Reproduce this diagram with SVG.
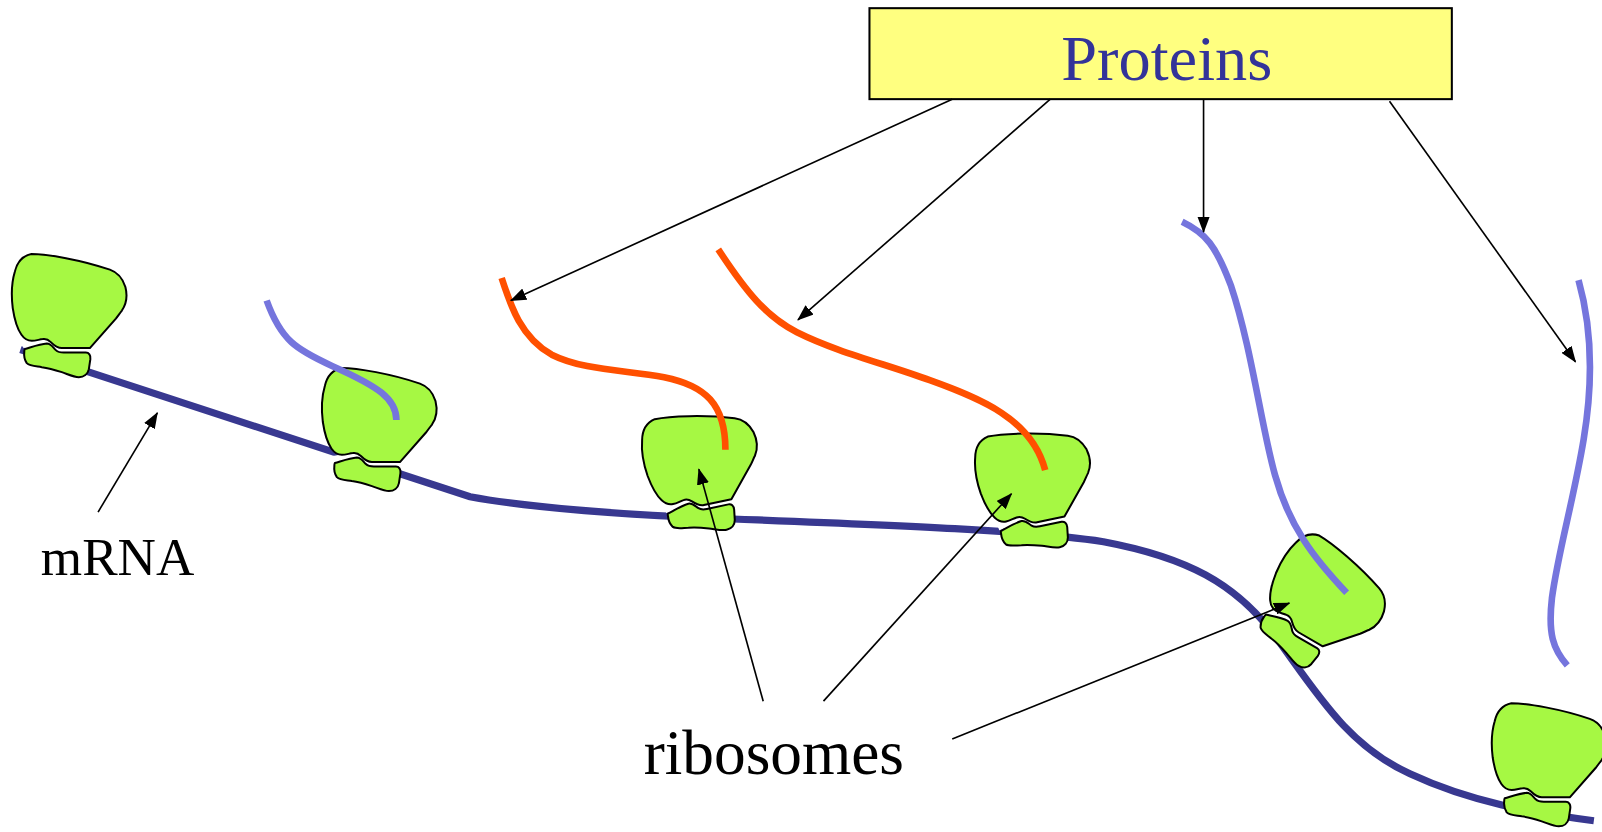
<svg xmlns="http://www.w3.org/2000/svg" width="1602" height="832" viewBox="0 0 1602 832">
  <style>
    .mrna { fill: none; stroke: #383890; stroke-width: 7; }
    .chain-blue { fill: none; stroke: #7575dd; stroke-width: 6.5; }
    .chain-red { fill: none; stroke: #ff5000; stroke-width: 6.5; }
    .sub { fill: #a6f843; stroke: #000; stroke-width: 2; stroke-linejoin: round; }
    .gap { fill: none; stroke: #fff; stroke-width: 6; }
    .ptr { fill: none; stroke: #000; stroke-width: 1.6; marker-end: url(#head); }
    .label { font-family: "Liberation Serif", "Times New Roman", serif; fill: #000; }
  </style>
  <defs>
    <marker id="head" viewBox="0 0 16 12" refX="15" refY="6" markerWidth="16" markerHeight="12" markerUnits="userSpaceOnUse" orient="auto">
      <path d="M0,0 L16,6 L0,12 Z" fill="#000"/>
    </marker>
    <!-- ribosome: large subunit on top, small subunit below, white cleft between -->
    <g id="ribosome">
      <path class="gap" d="M11,93 C22,91 30,88.5 36,89.5 C40,91 43,97.5 51,97.5 L77,97.5"/>
      <path class="sub" d="M19.7,2 C35,2 70,8 98,17.7 C106,20.5 111,27 113.5,35 C115.5,43 114.5,52 110,58.5 C108,61 106,64 104,66.5 L78,96 L50,96 C45,96 42,93 39,90 C36,87 34,86.5 31,87 C27,87.5 24,88.7 20,88.7 C16,88.7 12,86 9.7,82.7 C5,76 2.5,66 1,56 C-0.5,44 0,30 3,20 C5,11 10,4 19.7,2 Z"/>
      <path class="sub" d="M13,97 C20,95 28,92 35,91.5 C39,91.5 41,95 44,98 C46,100 48,100.5 52,100.5 L74,100.5 C77,100.5 79,103 78.5,107 L77,117 C76,122 72,125 67,125 C62,125 56,122 50,120 C44,118 38,116 30,115 C24,114 18,114 15,111 C13,108 12,104 12.5,100 C12.5,98.5 12.7,97.5 13,97 Z"/>
    </g>
  </defs>
  <rect width="1602" height="832" fill="#fff"/>
  <g transform="scale(1.0217,1.0221)">
    <!-- messenger RNA strand -->
    <g id="mrna">
      <path class="mrna" d="M20,342 L460,486 C520,497 600,503 700,507 C850,513 1000,518 1080,530 C1160,545 1210,570 1250,625 C1290,680 1320,730 1380,757 C1440,785 1500,795 1560,803"/>
    </g>
    <!-- ribosomes along the strand -->
    <g id="ribosome-1"><use href="#ribosome" transform="translate(11.5,246.5) scale(0.98)"/></g>
    <g id="ribosome-2"><use href="#ribosome" transform="translate(315,358) scale(0.98)"/></g>
    <g id="ribosome-3"><use href="#ribosome" transform="translate(689,461) rotate(-12) scale(0.98) translate(-57,-63)"/></g>
    <g id="ribosome-4"><use href="#ribosome" transform="translate(1015,478) rotate(-12) scale(0.98) translate(-57,-63)"/></g>
    <g id="ribosome-5"><use href="#ribosome" transform="translate(1293,594) rotate(30) scale(0.98) translate(-57,-63)"/></g>
    <g id="ribosome-6"><use href="#ribosome" transform="translate(1460,686) scale(0.98)"/></g>
    <!-- growing polypeptide chains -->
    <g id="chains">
      <path class="chain-blue" d="M261,294 C275,333 290,342 325,358 C370,378 388,390 388,411"/>
      <path class="chain-red" d="M491,272 C500,300 510,330 540,347 C570,362 610,362 650,369 C690,377 710,395 710,440"/>
      <path class="chain-red" d="M703,244 C730,285 750,310 780,325 C820,345 870,357 910,372 C960,390 1010,410 1023,460"/>
      <path class="chain-blue" d="M1157,217 C1180,228 1190,240 1205,280 C1225,340 1235,420 1248,465 C1262,515 1285,545 1318,580"/>
      <path class="chain-blue" d="M1545,274 C1558,320 1560,370 1550,430 C1540,490 1525,540 1519,585 C1515,620 1520,635 1534,651"/>
    </g>
    <!-- label box -->
    <g id="proteins-box">
      <rect x="851" y="8" width="570" height="89" fill="#ffff80" stroke="#000" stroke-width="2"/>
      <text x="1142" y="78" text-anchor="middle" font-family="Liberation Serif, Times New Roman, serif" font-size="63" fill="#333399">Proteins</text>
    </g>
    <!-- pointer lines -->
    <g id="connectors">
      <line class="ptr" x1="932" y1="97" x2="500" y2="294"/>
      <line class="ptr" x1="1028" y1="97" x2="781" y2="313"/>
      <line class="ptr" x1="1178" y1="97" x2="1178" y2="227"/>
      <line class="ptr" x1="1360" y1="99" x2="1542" y2="354"/>
      <line class="ptr" x1="96" y1="501" x2="154" y2="404"/>
      <line class="ptr" x1="747" y1="686" x2="684" y2="459"/>
      <line class="ptr" x1="806" y1="686" x2="990" y2="483"/>
      <line class="ptr" x1="932" y1="723" x2="1262" y2="590"/>
    </g>
    <g id="labels">
      <text class="label" x="40" y="563" font-size="52">mRNA</text>
      <text class="label" x="630" y="757" font-size="62">ribosomes</text>
    </g>
  </g>
</svg>
